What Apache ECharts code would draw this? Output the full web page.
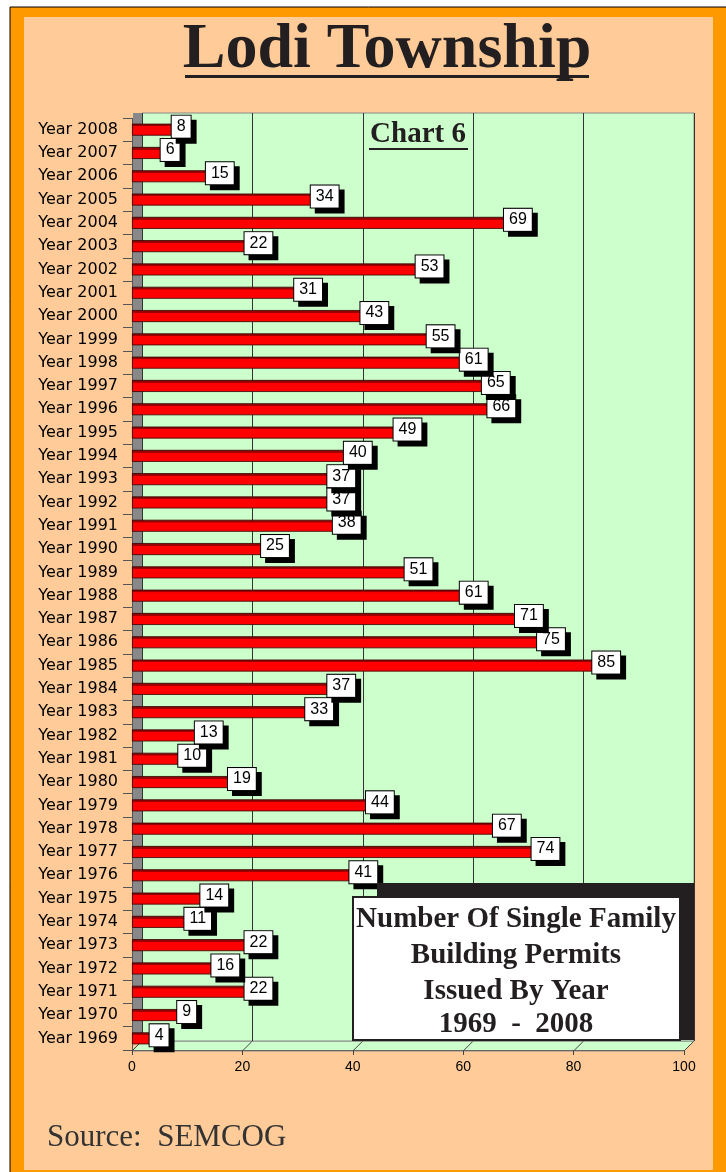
<!DOCTYPE html>
<html><head><meta charset="utf-8">
<script src="https://cdn.jsdelivr.net/npm/echarts@6/dist/echarts.min.js"></script>
<style>html,body{margin:0;padding:0;background:#fff}#c{width:726px;height:1172px}</style>
</head><body><div id="c"></div>
<script>
const years = ['Year 1969','Year 1970','Year 1971','Year 1972','Year 1973','Year 1974','Year 1975','Year 1976','Year 1977','Year 1978',
  'Year 1979','Year 1980','Year 1981','Year 1982','Year 1983','Year 1984','Year 1985','Year 1986','Year 1987','Year 1988',
  'Year 1989','Year 1990','Year 1991','Year 1992','Year 1993','Year 1994','Year 1995','Year 1996','Year 1997','Year 1998',
  'Year 1999','Year 2000','Year 2001','Year 2002','Year 2003','Year 2004','Year 2005','Year 2006','Year 2007','Year 2008'];
const permits = [4,9,22,16,22,11,14,41,74,67,
  44,19,10,13,33,37,85,75,71,61,
  51,25,38,37,37,40,49,66,65,61,
  55,43,31,53,22,69,34,15,6,8];
const xTicks = [0,20,40,60,80,100];
const title = 'Lodi Township';
const subtitle = 'Chart 6';
const boxLines = ['Number Of Single Family','Building Permits','Issued By Year','1969  -  2008'];
const source = 'Source:  SEMCOG';

const sans = '"Liberation Sans", Arial, sans-serif';
const wide = '"DejaVu Sans", Verdana, sans-serif';
const serif = '"Liberation Serif", "Times New Roman", serif';

const chart = echarts.init(document.getElementById('c'), null, {renderer:'canvas'});

const graphics = [
  {type:'rect', z:-100, shape:{x:10,y:7,width:720,height:1170}, style:{fill:'#FF9900', stroke:'#000', lineWidth:1}},
  {type:'rect', z:-99, shape:{x:24,y:17,width:689,height:1153}, style:{fill:'#FFCC99'}},
  {type:'text', z:10, x:387, y:50, style:{text:title, font:'bold 64px ' + serif, fill:'#231F20', align:'center', verticalAlign:'middle'}},
  {type:'rect', z:10, shape:{x:185,y:75,width:404,height:3}, style:{fill:'#231F20'}},
  {type:'text', z:10, x:418, y:135, style:{text:subtitle, font:'bold 29px ' + serif, fill:'#231F20', align:'center', verticalAlign:'middle'}},
  {type:'rect', z:10, shape:{x:369,y:148,width:99,height:2}, style:{fill:'#231F20'}},
  {type:'rect', z:10, shape:{x:377,y:883,width:317,height:157}, style:{fill:'#231F20'}},
  {type:'rect', z:11, shape:{x:353,y:897,width:327,height:143}, style:{fill:'#fff', stroke:'#231F20', lineWidth:2}},
  {type:'text', z:10, x:47, y:1138, style:{text:source, font:'31px ' + serif, fill:'#333', align:'left', verticalAlign:'middle'}}
];
const lineY = [920, 956, 992, 1025];
boxLines.forEach((t,i)=>{
  graphics.push({type:'text', z:12, x:516, y:lineY[i], style:{text:t, font:'bold 29px ' + serif, fill:'#231F20', align:'center', verticalAlign:'middle'}});
});
graphics.push({type:'polygon', z:-1, shape:{points:[[132,1051],[684,1051],[694,1041],[142,1041]]}, style:{fill:'#CCFFCC', stroke:'#888', lineWidth:1}});

const option = {
  backgroundColor:'#fff',
  animation:false,
  grid:[
    {left:142, right:32, top:113, bottom:131, show:true, backgroundColor:'#CCFFCC', borderColor:'#888', borderWidth:1, containLabel:false},
    {left:132, right:42, top:118, bottom:122, containLabel:false}
  ],
  xAxis:[
    {gridIndex:0, type:'value', min:0, max:100, interval:20,
     axisLine:{show:false}, axisTick:{show:false}, axisLabel:{show:false},
     splitLine:{show:true, lineStyle:{color:'#333', width:1}}},
    {gridIndex:1, type:'value', min:0, max:100, interval:20,
     axisLine:{show:true, onZero:false, lineStyle:{color:'#666'}},
     axisTick:{show:true, length:5, lineStyle:{color:'#444'}},
     axisLabel:{show:true, margin:10, fontFamily:sans, fontSize:14, color:'#000', formatter:v=>xTicks.includes(v)?String(v):''},
     splitLine:{show:false}}
  ],
  yAxis:[
    {gridIndex:0, type:'value', min:0, max:1, offset:5,
     axisLine:{show:true, onZero:false, lineStyle:{color:'#888', width:9, cap:'butt'}},
     axisTick:{show:false}, axisLabel:{show:false}, splitLine:{show:false}},
    {gridIndex:1, type:'category', data:years,
     axisLine:{show:true, onZero:false, lineStyle:{color:'#555', cap:'butt'}},
     axisTick:{show:true, length:9, lineStyle:{color:'#555'}},
     axisLabel:{margin:14, fontFamily:wide, fontSize:16, color:'#000'}}
  ],
  series:[{
    type:'bar', xAxisIndex:1, yAxisIndex:1, data:permits, barWidth:12,
    itemStyle:{
      color:{type:'linear', x:0, y:0, x2:0, y2:1, colorStops:[
        {offset:0, color:'#8B0000'},{offset:0.22, color:'#A00000'},{offset:0.24, color:'#FF0000'},{offset:1, color:'#FF0000'}]},
      borderColor:'#300', borderWidth:0.8
    },
    label:{
      show:true, position:'right', distance:5, align:'center', verticalAlign:'middle', offset:[0,-3],
      fontFamily:sans, fontSize:16, lineHeight:17, color:'#000', backgroundColor:'#fff', borderColor:'#000', borderWidth:1,
      padding:[3,5,2,5], shadowColor:'#000', shadowOffsetX:5, shadowOffsetY:5, shadowBlur:0
    }
  }],
  graphic:{elements:graphics}
};
chart.setOption(option);

// slanted floor tick marks linking front axis to back wall grid lines
const extra = [];
xTicks.forEach(v=>{
  const fx = chart.convertToPixel({xAxisIndex:1}, v);
  const bx = chart.convertToPixel({xAxisIndex:0}, v);
  extra.push({type:'line', z:-1, shape:{x1:fx, y1:1051, x2:bx, y2:1041}, style:{stroke:'#444', lineWidth:1}});
});
chart.setOption({graphic:{elements:graphics.concat(extra)}}, {replaceMerge:['graphic']});
</script>
</body></html>
